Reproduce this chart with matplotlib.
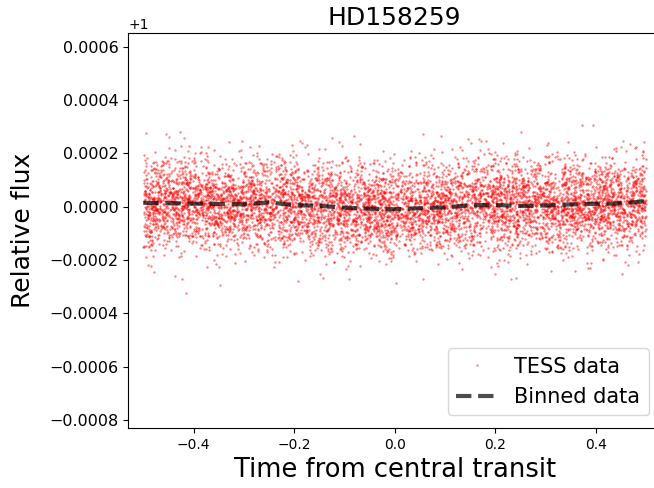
import numpy as np
import matplotlib
matplotlib.use("Agg")
import matplotlib.pyplot as plt

# ---- data ----
title = "HD158259"
xlabel = "Time from central transit"
ylabel = "Relative flux"
xticks = [-0.4, -0.2, 0.0, 0.2, 0.4]
yticks = [-0.0008, -0.0006, -0.0004, -0.0002, 0.0, 0.0002, 0.0004, 0.0006]

# binned light curve (relative flux - 1)
bin_time = [-0.50, -0.45, -0.40, -0.35, -0.30, -0.25, -0.20, -0.15, -0.10, -0.05,
            0.00, 0.05, 0.10, 0.15, 0.20, 0.25, 0.30, 0.35, 0.40, 0.45, 0.50]
bin_flux = [1.4e-5, 1.3e-5, 1.1e-5, 1.0e-5, 0.8e-5, 1.6e-5, 0.5e-5, 0.3e-5, -0.4e-5, -0.8e-5,
            -1.0e-5, -0.6e-5, -0.3e-5, 0.5e-5, 0.6e-5, 0.2e-5, 0.4e-5, 0.8e-5, 1.0e-5, 1.2e-5, 2.0e-5]

# The individual TESS points (thousands) cannot be read one by one; the cloud
# is rendered from its estimated spread (scatter sigma) around the binned curve.
n_points = 7000
scatter_sigma = 8.5e-5
rng = np.random.default_rng(158259)
tess_time = np.sort(rng.uniform(-0.5, 0.5, n_points))
tess_flux = 1.0 + np.interp(tess_time, bin_time, bin_flux) + rng.normal(0, scatter_sigma, n_points)

fig = plt.figure(figsize=(6.54, 4.88), dpi=100)
ax = fig.add_axes([0.196, 0.123, 0.815, 0.809])

ax.plot(tess_time, tess_flux, 'o', color='red', markersize=1.7, alpha=0.5,
        markeredgewidth=0, label='TESS data')
ax.plot(bin_time, 1.0 + np.array(bin_flux), '--', color='black', alpha=0.7,
        linewidth=3, label='Binned data')

ax.set_xlim(-0.53, 0.53)
ax.set_ylim(1 - 0.00083, 1 + 0.00065)
ax.set_xticks(xticks)
ax.set_yticks([1 + v for v in yticks])
ax.tick_params(axis='x', labelsize=10)
ax.tick_params(axis='y', labelsize=11.5)
ax.yaxis.get_offset_text().set_fontsize(10)

ax.set_title(title, fontsize=18)
ax.set_xlabel(xlabel, fontsize=18.5)
ax.set_ylabel(ylabel, fontsize=18, labelpad=10)
ax.legend(loc='lower right', fontsize=15, markerscale=1.0, borderaxespad=0.6)

fig.savefig("out.png", dpi=100)
